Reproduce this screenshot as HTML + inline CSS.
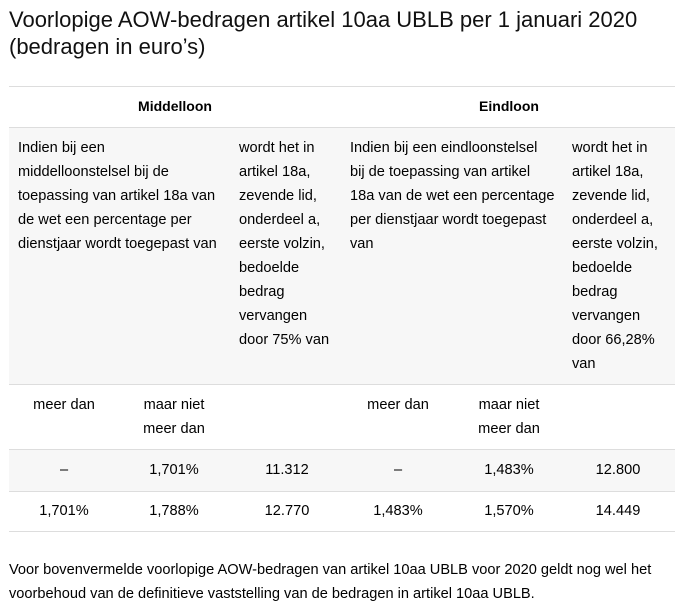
<!DOCTYPE html>
<html><head><meta charset="utf-8"><style>
body{margin:0;width:683px;height:606px;background:#fff;font-family:"Liberation Sans",sans-serif;color:#000;position:relative;overflow:hidden}
.a{position:absolute;font-size:14.6px;line-height:24px;white-space:nowrap}
.c{text-align:center}
.h{position:absolute;left:9px;width:666px;height:1px;background:#ddd}
.bg{position:absolute;left:9px;width:666px;background:#f7f7f7}
</style></head><body>
<div class="a" style="left:9px;top:6px;font-size:22px;line-height:27px;color:#111">Voorlopige AOW-bedragen artikel 10aa UBLB per 1 januari 2020<br>(bedragen in euro’s)</div>
<div class="bg" style="top:127px;height:257px"></div>
<div class="bg" style="top:449px;height:42px"></div>
<div class="h" style="top:86px"></div>
<div class="h" style="top:127px"></div>
<div class="h" style="top:384px"></div>
<div class="h" style="top:449px"></div>
<div class="h" style="top:491px"></div>
<div class="h" style="top:531px"></div>
<div class="a c" style="left:100px;width:150px;top:94px;font-weight:bold;font-size:14px">Middelloon</div>
<div class="a c" style="left:434px;width:150px;top:94px;font-weight:bold;font-size:14px">Eindloon</div>
<div class="a" style="left:18px;top:136px">Indien bij een<br>middelloonstelsel bij de<br>toepassing van artikel 18a van<br>de wet een percentage per<br>dienstjaar wordt toegepast van</div>
<div class="a" style="left:239px;top:136px">wordt het in<br>artikel 18a,<br>zevende lid,<br>onderdeel a,<br>eerste volzin,<br>bedoelde<br>bedrag<br>vervangen<br>door 75% van</div>
<div class="a" style="left:350px;top:136px">Indien bij een eindloonstelsel<br>bij de toepassing van artikel<br>18a van de wet een percentage<br>per dienstjaar wordt toegepast<br>van</div>
<div class="a" style="left:572px;top:136px">wordt het in<br>artikel 18a,<br>zevende lid,<br>onderdeel a,<br>eerste volzin,<br>bedoelde<br>bedrag<br>vervangen<br>door 66,28%<br>van</div>
<div class="a c" style="left:14px;width:100px;top:393px">meer dan</div>
<div class="a c" style="left:124px;width:100px;top:393px">maar niet<br>meer dan</div>
<div class="a c" style="left:348px;width:100px;top:393px">meer dan</div>
<div class="a c" style="left:459px;width:100px;top:393px">maar niet<br>meer dan</div>
<div class="a c" style="left:14px;width:100px;top:458px">–</div>
<div class="a c" style="left:124px;width:100px;top:458px">1,701%</div>
<div class="a c" style="left:237px;width:100px;top:458px">11.312</div>
<div class="a c" style="left:348px;width:100px;top:458px">–</div>
<div class="a c" style="left:459px;width:100px;top:458px">1,483%</div>
<div class="a c" style="left:568px;width:100px;top:458px">12.800</div>
<div class="a c" style="left:14px;width:100px;top:499px">1,701%</div>
<div class="a c" style="left:124px;width:100px;top:499px">1,788%</div>
<div class="a c" style="left:237px;width:100px;top:499px">12.770</div>
<div class="a c" style="left:348px;width:100px;top:499px">1,483%</div>
<div class="a c" style="left:459px;width:100px;top:499px">1,570%</div>
<div class="a c" style="left:568px;width:100px;top:499px">14.449</div>
<div class="a" style="left:9px;top:558px">Voor bovenvermelde voorlopige AOW-bedragen van artikel 10aa UBLB voor 2020 geldt nog wel het<br>voorbehoud van de definitieve vaststelling van de bedragen in artikel 10aa UBLB.</div>
</body></html>
